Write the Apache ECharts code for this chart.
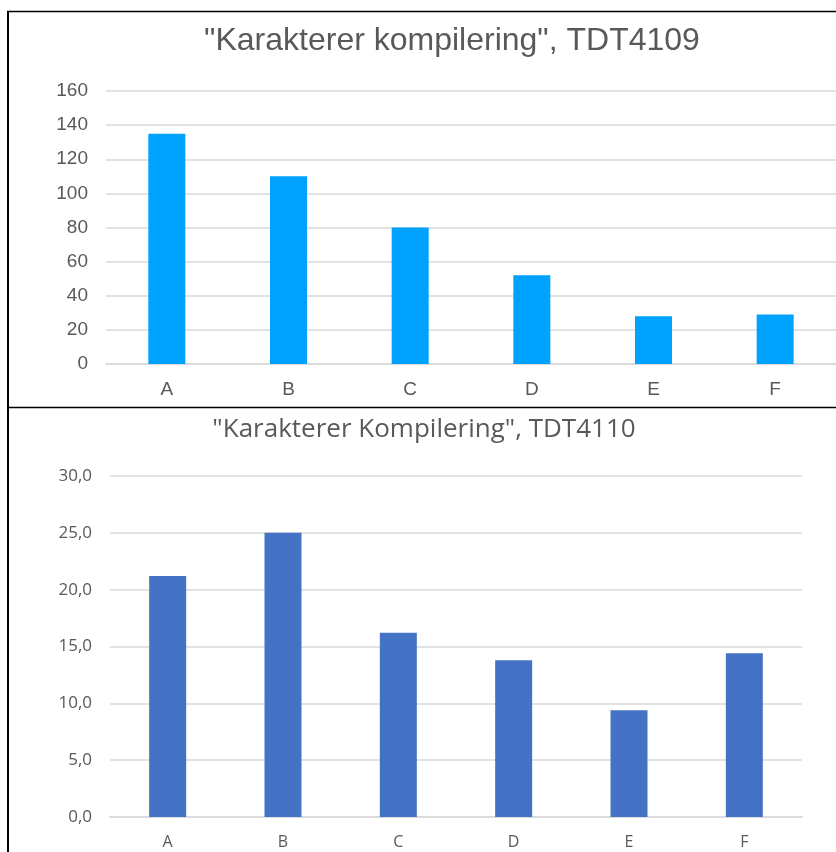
<!DOCTYPE html>
<html>
<head>
<meta charset="utf-8">
<script src="https://cdn.jsdelivr.net/npm/echarts@6/dist/echarts.min.js"></script>
<style>
  html, body { margin: 0; padding: 0; background: #fff; }
  #main { width: 836px; height: 852px; }
</style>
</head>
<body>
<div id="main"></div>
<script>
// karakterfordeling for to emner
var grades = ["A", "B", "C", "D", "E", "F"];
var tdt4109 = [135, 110, 80, 52, 28, 29];
var tdt4110 = [21.2, 25.0, 16.2, 13.8, 9.4, 14.4];
var ticks4109 = [0, 160, 20];   // min, max, interval
var ticks4110 = [0, 30, 5];

function init_chart(container) {
  var chartDom = document.getElementById(container);
  var myChart = echarts.init(chartDom);
  var option;

  var grey = "#595959";
  var gridColor = "#d9d9d9";

  option = {
    animation: false,
    backgroundColor: "#fff",
    title: [
      {
        text: '"Karakterer kompilering", TDT4109',
        left: 452,
        top: 25,
        textAlign: "center",
        padding: 0,
        textStyle: {
          fontFamily: "Liberation Sans",
          fontWeight: "normal",
          fontSize: 32,
          color: grey,
        },
      },
      {
        text: '"Karakterer Kompilering", TDT4110',
        left: 424,
        top: 417,
        textAlign: "center",
        padding: 0,
        textStyle: {
          fontFamily: "Open Sans",
          fontWeight: "normal",
          fontSize: 26,
          color: grey,
        },
      },
    ],
    grid: [
      { left: 106, top: 91, width: 734, height: 273 },
      { left: 110, top: 476, width: 692, height: 341 },
    ],
    xAxis: [
      {
        type: "category",
        gridIndex: 0,
        data: grades,
        axisTick: { show: false },
        axisLine: { lineStyle: { color: gridColor, width: 1.5 } },
        axisLabel: {
          margin: 16,
          color: grey,
          fontFamily: "Liberation Sans",
          fontSize: 19,
        },
      },
      {
        type: "category",
        gridIndex: 1,
        data: grades,
        axisTick: { show: false },
        axisLine: { lineStyle: { color: gridColor, width: 1.5 } },
        axisLabel: {
          margin: 17,
          color: grey,
          fontFamily: "Open Sans",
          fontSize: 16,
        },
      },
    ],
    yAxis: [
      {
        type: "value",
        gridIndex: 0,
        min: ticks4109[0],
        max: ticks4109[1],
        interval: ticks4109[2],
        axisLine: { show: false },
        axisTick: { show: false },
        splitLine: { lineStyle: { color: gridColor, width: 1.5 } },
        axisLabel: {
          margin: 18,
          color: grey,
          fontFamily: "Liberation Sans",
          fontSize: 19,
        },
      },
      {
        type: "value",
        gridIndex: 1,
        min: ticks4110[0],
        max: ticks4110[1],
        interval: ticks4110[2],
        axisLine: { show: false },
        axisTick: { show: false },
        splitLine: { lineStyle: { color: gridColor, width: 1.5 } },
        axisLabel: {
          margin: 18,
          color: grey,
          fontFamily: "Open Sans",
          fontSize: 17,
          formatter: function (v) {
            return v.toFixed(1).replace(".", ",");
          },
        },
      },
    ],
    series: [
      {
        type: "bar",
        xAxisIndex: 0,
        yAxisIndex: 0,
        data: tdt4109,
        barWidth: 37,
        itemStyle: { color: "#00a2ff" },
      },
      {
        type: "bar",
        xAxisIndex: 1,
        yAxisIndex: 1,
        data: tdt4110,
        barWidth: 37,
        itemStyle: { color: "#4472c4" },
      },
    ],
    // rammer rundt diagrammene
    graphic: [
      { type: "line", shape: { x1: 7, y1: 11.5, x2: 836, y2: 11.5 }, style: { stroke: "#000", lineWidth: 1.5 } },
      { type: "line", shape: { x1: 8, y1: 11, x2: 8, y2: 852 }, style: { stroke: "#000", lineWidth: 2 } },
      { type: "line", shape: { x1: 7, y1: 407.5, x2: 836, y2: 407.5 }, style: { stroke: "#000", lineWidth: 1.5 } },
    ],
  };

  option && myChart.setOption(option);
  window.addEventListener("resize", function () {
    myChart.resize();
  });
}

init_chart("main");
</script>
</body>
</html>
